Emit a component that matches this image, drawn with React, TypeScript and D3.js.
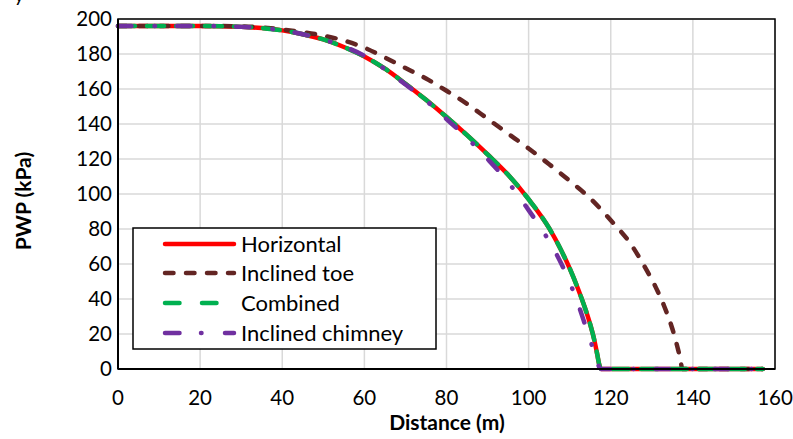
import React from "react";
import * as d3 from "d3";

const xTicks = [0, 20, 40, 60, 80, 100, 120, 140, 160];
const yTicks = [0, 20, 40, 60, 80, 100, 120, 140, 160, 180, 200];

const horizontalX = [0, 10, 20, 30, 35, 40, 45, 50, 55, 60, 65, 70, 75, 80, 85, 90, 95, 100, 105, 108, 110, 112, 114, 115, 116, 116.7, 117.2, 117.6, 157];
const horizontalY = [196, 196, 196, 195.5, 194.8, 193.5, 191.3, 188.3, 184, 178.6, 171.6, 163, 153.8, 144, 133.6, 122.6, 111, 97, 80.5, 67.5, 57.5, 46, 33, 25.5, 16.5, 8.5, 2.5, 0, 0];

const toeX = [0, 10, 20, 30, 40, 45, 50, 55, 60, 65, 70, 75, 80, 85, 90, 95, 100, 105, 110, 115, 120, 125, 128, 131, 133, 135, 136.3, 137, 137.4, 157];
const toeY = [196, 196, 196, 195.8, 194, 192.5, 190.5, 187.7, 183.6, 178, 172, 166, 159, 151.5, 143, 134.5, 126, 117, 107.5, 97.5, 85, 71, 59.5, 46.5, 36, 23, 12, 5, 0, 0];

const combinedX = [0, 10, 20, 30, 35, 40, 45, 50, 55, 60, 65, 70, 75, 80, 85, 90, 95, 100, 105, 108, 110, 112, 114, 115, 116, 116.7, 117.2, 117.6, 157];
const combinedY = [196, 196, 196, 195.5, 194.8, 193.5, 191.3, 188.3, 184, 178.6, 171.6, 163, 153.8, 144, 133.6, 122.6, 111, 97, 80.5, 67.5, 57.5, 46, 33, 25.5, 16.5, 8.5, 2.5, 0, 0];

const chimneyX = [0, 10, 20, 30, 40, 45, 50, 55, 60, 65, 70, 75, 80, 85, 90, 95, 100, 105, 108, 110, 112, 114, 115.5, 116.6, 117.2, 117.6, 157];
const chimneyY = [196, 196, 196, 195.5, 193.5, 191.3, 188.3, 184.3, 179, 171.3, 162.6, 153.4, 142.8, 132, 120, 106.8, 90.8, 73, 60, 49.5, 37.5, 23.5, 13, 5, 1, 0, 0];

const seriesNames = ["Horizontal", "Inclined toe", "Combined", "Inclined chimney"];

const FONT = "Lato, 'Open Sans', sans-serif";

export default function App() {
  const W = 793, H = 439;
  const left = 118, right = 775, top = 19, bottom = 369;
  const x = d3.scaleLinear().domain([0, 160]).range([left, right]);
  const y = d3.scaleLinear().domain([0, 200]).range([bottom, top]);

  const line = d3.line<[number, number]>()
    .x(d => x(d[0]))
    .y(d => y(d[1]))
    .curve(d3.curveMonotoneX);

  const zip = (a: number[], b: number[]) => a.map((v, i) => [v, b[i]] as [number, number]);

  const series = [
    { name: seriesNames[0], data: zip(horizontalX, horizontalY), color: "#FF0000", dash: undefined as string | undefined, legDash: undefined as string | undefined, width: 4.5 },
    { name: seriesNames[1], data: zip(toeX, toeY), color: "#632523", dash: "8.5 12.5", legDash: "8.5 12.5", width: 4.5 },
    { name: seriesNames[2], data: zip(combinedX, combinedY), color: "#00B050", dash: "17 12", legDash: "14.5 22.5", width: 4.5 },
    { name: seriesNames[3], data: zip(chimneyX, chimneyY), color: "#7030A0", dash: "13.5 23 0.5 22", legDash: "14.5 21.5 0.5 23.5", width: 4.5 },
  ];

  const legX = 133, legY = 228, legW = 303, legH = 121;
  const rowY = [244, 273, 303, 333];

  return (
    <svg width={W} height={H} style={{ position: "absolute", left: 0, top: 0, background: "#fff" }}>
      <rect x={0} y={0} width={W} height={H} fill="#fff" />
      <text x={14} y={2} fontFamily={FONT} fontSize={20} fill="#000">y</text>
      {/* grid */}
      {xTicks.map(t => (
        <line key={"gx" + t} x1={x(t)} x2={x(t)} y1={top} y2={bottom} stroke="#d9d9d9" strokeWidth={1.5} />
      ))}
      {yTicks.map(t => (
        <line key={"gy" + t} x1={left} x2={right} y1={y(t)} y2={y(t)} stroke="#d9d9d9" strokeWidth={1.5} />
      ))}
      {/* series */}
      {series.map(s => (
        <path key={s.name} d={line(s.data) || ""} fill="none" stroke={s.color} strokeWidth={s.width}
          strokeDasharray={s.dash} strokeLinecap="round" strokeLinejoin="round" />
      ))}
      {/* border */}
      <rect x={left} y={top} width={right - left} height={bottom - top} fill="none" stroke="#000" strokeWidth={1.5} />
      <line x1={left} x2={left} y1={top} y2={bottom} stroke="#000" strokeWidth={2} />
      <line x1={left} x2={right} y1={bottom} y2={bottom} stroke="#000" strokeWidth={2} />
      {/* tick labels */}
      {yTicks.map(t => (
        <text key={"ty" + t} x={left - 6} y={y(t)} dy="0.35em" textAnchor="end" fontFamily={FONT} fontSize={20.5} fill="#000">{t}</text>
      ))}
      {xTicks.map(t => (
        <text key={"tx" + t} x={x(t)} y={bottom + 29} dy="0.35em" textAnchor="middle" fontFamily={FONT} fontSize={20.5} fill="#000">{t}</text>
      ))}
      {/* axis titles */}
      <text x={447} y={430} textAnchor="middle" fontFamily={FONT} fontWeight="bold" fontSize={21} fill="#000">Distance (m)</text>
      <text transform={`translate(31,201) rotate(-90)`} textAnchor="middle" fontFamily={FONT} fontWeight="bold" fontSize={21} fill="#000">PWP (kPa)</text>
      {/* legend */}
      <rect x={legX} y={legY} width={legW} height={legH} fill="#fff" stroke="#000" strokeWidth={1.5} />
      {series.map((s, i) => (
        <g key={"leg" + s.name}>
          <line x1={165} x2={234} y1={rowY[i]} y2={rowY[i]} stroke={s.color} strokeWidth={s.width}
            strokeDasharray={s.legDash} strokeLinecap="round" />
          <text x={241} y={rowY[i]} dy="0.35em" fontFamily={FONT} fontSize={22} fill="#000">{s.name}</text>
        </g>
      ))}
    </svg>
  );
}
